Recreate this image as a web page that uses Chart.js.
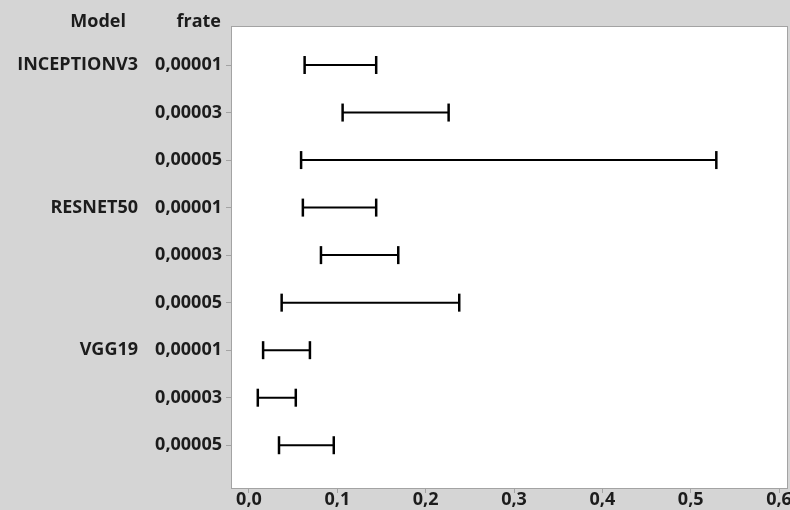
<!DOCTYPE html>
<html>
<head>
<meta charset="utf-8">
<script src="https://cdn.jsdelivr.net/npm/chart.js@4/dist/chart.umd.min.js"></script>
<style>
  html, body { margin: 0; padding: 0; background: #d5d5d5; }
  #wrap { width: 790px; height: 510px; }
</style>
</head>
<body>
<div id="wrap"><canvas id="intervalChart" width="790" height="510"></canvas></div>
<script>
// model groups and learning rates
const models = ['INCEPTIONV3', 'RESNET50', 'VGG19'];
const frates = ['0,00001', '0,00003', '0,00005'];

// interval ends, one per row (model x frate), top to bottom
const lower = [0.063, 0.106, 0.059, 0.061, 0.0815, 0.037, 0.016, 0.010, 0.034];
const upper = [0.144, 0.226, 0.529, 0.144, 0.169, 0.238, 0.069, 0.053, 0.096];

const xTicks = [0, 0.1, 0.2, 0.3, 0.4, 0.5, 0.6];

const rows = lower.map((_, i) => i);
const textColor = '#1c1c1c';
const frameColor = '#a3a3a3';
const font = '"Open Sans", "Noto Sans", sans-serif';

const datasets = rows.map(i => ({
  data: [{ x: lower[i], y: i }, { x: upper[i], y: i }],
  showLine: true,
  borderColor: '#000',
  borderWidth: 2,
  pointStyle: 'line',
  pointRotation: 90,
  pointRadius: 9,
  pointBorderWidth: 2.5,
  pointBorderColor: '#000'
}));

// white plot area + frame, model names and column headers
const framePlugin = {
  id: 'frame',
  beforeDatasetsDraw(chart) {
    const { ctx, chartArea: a } = chart;
    ctx.save();
    ctx.fillStyle = '#fff';
    ctx.fillRect(a.left, a.top, a.right - a.left, a.bottom - a.top);
    ctx.strokeStyle = frameColor;
    ctx.lineWidth = 1;
    ctx.strokeRect(a.left - 0.5, a.top - 0.5, a.right - a.left + 1, a.bottom - a.top + 1);
    ctx.restore();
  },
  afterDraw(chart) {
    const { ctx } = chart;
    const y = chart.scales.y;
    ctx.save();
    ctx.fillStyle = textColor;
    ctx.font = 'bold 18px ' + font;
    ctx.textAlign = 'right';
    ctx.textBaseline = 'middle';
    ctx.fillText('Model', 126, 22);
    ctx.fillText('frate', 221, 22);
    models.forEach((m, k) => {
      ctx.fillText(m, 138, y.getPixelForValue(k * frates.length));
    });
    ctx.restore();
  }
};

new Chart(document.getElementById('intervalChart'), {
  type: 'scatter',
  data: { datasets },
  plugins: [framePlugin],
  options: {
    responsive: false,
    animation: false,
    layout: { autoPadding: false, padding: { top: 27, right: 3, left: 0, bottom: 0 } },
    plugins: { legend: { display: false }, tooltip: { enabled: false } },
    scales: {
      x: {
        type: 'linear',
        min: -0.0192,
        max: 0.609,
        afterBuildTicks(scale) { scale.ticks = xTicks.map(v => ({ value: v })); },
        afterFit(scale) { scale.height = 22; scale.paddingLeft = 0; scale.paddingRight = 0; },
        ticks: {
          color: textColor,
          padding: -4,
          maxRotation: 0,
          font: { family: font, size: 18, weight: 'bold' },
          callback: v => Number(v).toFixed(1).replace('.', ',')
        },
        grid: { drawOnChartArea: false, tickLength: 5, color: frameColor },
        border: { display: false }
      },
      y: {
        type: 'linear',
        reverse: true,
        min: -0.8,
        max: 8.9,
        afterBuildTicks(scale) { scale.ticks = rows.map(v => ({ value: v })); },
        afterFit(scale) { scale.width = 232; },
        ticks: {
          color: textColor,
          padding: 4,
          font: { family: font, size: 18, weight: 'bold' },
          callback: v => frates[v % frates.length]
        },
        grid: { drawOnChartArea: false, tickLength: 6, color: frameColor },
        border: { display: false }
      }
    }
  }
});
</script>
</body>
</html>
